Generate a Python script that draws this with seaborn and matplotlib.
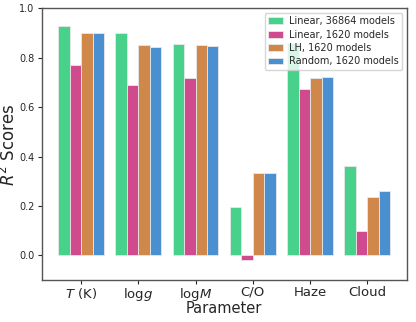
import pandas as pd
import matplotlib
matplotlib.use("Agg")
import matplotlib.pyplot as plt
import seaborn as sns

params = ['$T$ (K)', 'log$g$', 'log$M$', 'C/O', 'Haze', 'Cloud']
series = ['Linear, 36864 models', 'Linear, 1620 models',
          'LH, 1620 models', 'Random, 1620 models']
lin_36864 = [0.928, 0.900, 0.857, 0.198, 0.860, 0.363]
lin_1620 = [0.770, 0.690, 0.718, -0.020, 0.674, 0.097]
lh_1620 = [0.900, 0.850, 0.850, 0.335, 0.720, 0.237]
rand_1620 = [0.900, 0.845, 0.848, 0.335, 0.724, 0.262]
colors = ['#48D18A', '#D04A8E', '#D0884A', '#4A90D0']

rows = []
for name, vals in zip(series, [lin_36864, lin_1620, lh_1620, rand_1620]):
    for p, v in zip(params, vals):
        rows.append({'Parameter': p, 'score': v, 'model': name})
df = pd.DataFrame(rows)

sns.set_style('ticks')
fig = plt.figure(figsize=(4.16, 3.22), dpi=100)
ax = fig.add_axes([0.1, 0.13, 0.878, 0.844])
sns.barplot(data=df, x='Parameter', y='score', hue='model',
            palette=colors, saturation=1, edgecolor='#e8e8e8',
            linewidth=0.6, ax=ax)

ax.set_xlim(-0.69, 5.69)
ax.set_ylim(-0.1, 1.0)
ax.set_ylabel('$R^2$ Scores', fontsize=12)
ax.yaxis.set_label_coords(-0.062, 0.5)
ax.set_xlabel('Parameter', fontsize=10.5, labelpad=-1)
ax.tick_params(axis='x', labelsize=9.5, pad=1, length=3)
ax.tick_params(axis='y', labelsize=7, pad=2, length=3)
for s in ax.spines.values():
    s.set_color('#555555')
    s.set_linewidth(1.0)
ax.legend(loc='upper right', fontsize=7, handlelength=1.6, handletextpad=0.6,
          labelspacing=0.35, borderpad=0.35, borderaxespad=0.45)

fig.savefig('out.png', dpi=100)
